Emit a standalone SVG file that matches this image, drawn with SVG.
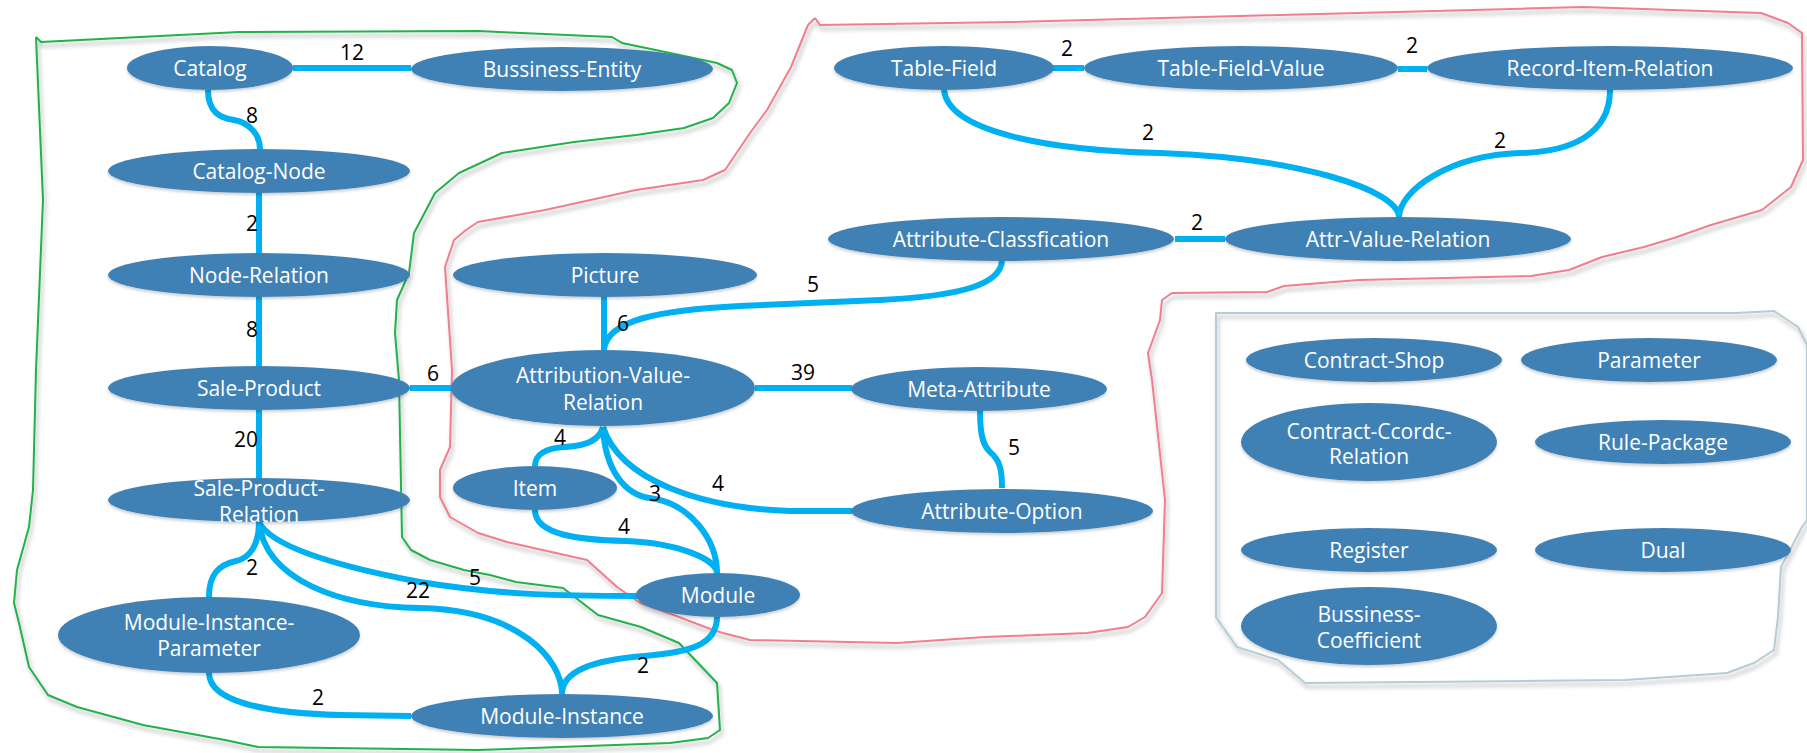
<svg xmlns="http://www.w3.org/2000/svg" width="1807" height="753" viewBox="0 0 1807 753">
<defs>
<filter id="sh" x="-5%" y="-5%" width="110%" height="110%">
<feDropShadow dx="2" dy="4" stdDeviation="2" flood-color="#000" flood-opacity="0.3"/>
</filter>
<filter id="nsh" x="-10%" y="-20%" width="120%" height="150%">
<feDropShadow dx="0" dy="2" stdDeviation="1.5" flood-color="#000" flood-opacity="0.2"/>
</filter>
</defs>
<style>
.n ellipse{fill:#4181B5;filter:url(#nsh)}
.n text{fill:#fff;font-family:"Open Sans","Liberation Sans",sans-serif;font-size:21px;text-anchor:middle}
.e path{fill:none;stroke:#00B0F0;stroke-width:6}
.lbl text{fill:#000;font-family:"Open Sans","Liberation Sans",sans-serif;font-size:21px;text-anchor:middle}
.b{fill:none;stroke-width:2;stroke-linejoin:round;filter:url(#sh)}
</style>
<rect width="1807" height="753" fill="#fff"/>
<g id="boundaries">
<path class="b" stroke="#23B14D" d="M36 37 L41 42 L239 32 L478 31 L612 37 L622 43 L670 53 L717 63 L732 70 L737 83 L729 103 L713 118 L684 128 L636 135 L574 142 L502 153 L459 173 L435 193 L414 233 L409 273 L397 300 L395 333 L399 380 L402 537 L411 550 L430 560 L464 570 L490 575 L516 582 L563 588 L598 615 L641 627 L679 643 L717 683 L720 730 L708 738 L670 743 L478 750 L258 747 L225 740 L143 725 L77 707 L48 695 L29 667 L19 623 L14 603 L17 570 L29 527 L33 490 L36 370 L43 200 L36 37"/>
<path class="b" stroke="#EF7F8F" d="M815 18 L820 25 L1012 22 L1584 7 L1761 13 L1788 23 L1802 33 L1803 160 L1791 187 L1762 210 L1711 225 L1674 238 L1644 247 L1602 257 L1569 270 L1531 276 L1359 280 L1284 286 L1267 292 L1172 293 L1162 300 L1160 320 L1148 353 L1152 380 L1165 500 L1162 593 L1145 617 L1128 627 L1087 633 L985 637 L897 643 L750 640 L723 633 L713 630 L679 617 L640 603 L617 587 L587 560 L507 542 L478 533 L450 517 L440 497 L440 470 L450 447 L452 370 L445 267 L454 240 L466 230 L478 222 L545 210 L636 190 L703 180 L725 170 L750 133 L767 110 L791 67 L808 25 L815 18"/>
<path class="b" stroke="#B4CCD4" d="M1216 313 L1736 313 L1774 311 L1798 327 L1807 345 L1807 520 L1802 527 L1781 567 L1778 617 L1774 650 L1754 663 L1727 673 L1625 680 L1305 683 L1278 660 L1237 647 L1227 633 L1216 617 Z"/>
</g>
<g id="connectors" class="e">
<path d="M293 68 L411 68"/>
<path d="M208 90 C208 112 220 118 234 120 C250 123 260 135 260 149"/>
<path d="M259 193 L259 253"/>
<path d="M259 297 L259 366"/>
<path d="M259 410 L259 478"/>
<path d="M410 388 L452 388"/>
<path d="M604 297 L604 350"/>
<path d="M1002 261 C1000 285 960 296 880 300 L740 306 C660 310 606 320 604 350"/>
<path d="M755 388 L852 388"/>
<path d="M603 427 C600 440 585 446 565 447 C545 448 535 455 535 466"/>
<path d="M603 427 C605 470 625 495 650 498 C690 503 717 540 717 573"/>
<path d="M603 427 C620 480 700 508 790 511 L852 511"/>
<path d="M535 510 C535 535 580 540 625 541 C680 543 717 560 717 573"/>
<path d="M980 411 C980 440 985 447 990 452 C1000 460 1002 470 1002 488"/>
<path d="M259 522 C270 545 330 565 420 582 C500 595 560 596 637 596"/>
<path d="M259 522 C265 580 340 607 420 608 C520 610 562 660 562 694"/>
<path d="M259 522 C259 545 250 558 236 561 C218 565 209 575 209 597"/>
<path d="M209 673 C209 700 260 713 340 715 L411 716"/>
<path d="M717 617 C717 645 690 652 645 656 C590 660 562 672 562 694"/>
<path d="M1053 68 L1084 68"/>
<path d="M1398 69 L1427 69"/>
<path d="M944 90 C948 130 1040 150 1160 153 C1300 158 1398 190 1399 217"/>
<path d="M1610 90 C1610 135 1570 152 1520 153 C1450 155 1400 190 1399 217"/>
<path d="M1175 239 L1225 239"/>
</g>
<g id="labels" class="lbl">
<text x="352" y="60">12</text>
<text x="252" y="123">8</text>
<text x="252" y="231">2</text>
<text x="252" y="337">8</text>
<text x="246" y="447">20</text>
<text x="433" y="381">6</text>
<text x="623" y="331">6</text>
<text x="813" y="292">5</text>
<text x="803" y="380">39</text>
<text x="560" y="445">4</text>
<text x="655" y="501">3</text>
<text x="718" y="491">4</text>
<text x="624" y="534">4</text>
<text x="1014" y="455">5</text>
<text x="475" y="585">5</text>
<text x="418" y="598">22</text>
<text x="252" y="575">2</text>
<text x="318" y="705">2</text>
<text x="643" y="673">2</text>
<text x="1067" y="56">2</text>
<text x="1412" y="53">2</text>
<text x="1148" y="140">2</text>
<text x="1500" y="148">2</text>
<text x="1197" y="230">2</text>
</g>
<g id="n-catalog" class="n"><ellipse cx="210" cy="68" rx="83" ry="22"/><text x="210" y="76">Catalog</text></g>
<g id="n-bussiness-entity" class="n"><ellipse cx="562" cy="69" rx="151" ry="22"/><text x="562" y="77">Bussiness-Entity</text></g>
<g id="n-catalog-node" class="n"><ellipse cx="259" cy="171" rx="151" ry="22"/><text x="259" y="179">Catalog-Node</text></g>
<g id="n-node-relation" class="n"><ellipse cx="259" cy="275" rx="151" ry="22"/><text x="259" y="283">Node-Relation</text></g>
<g id="n-sale-product" class="n"><ellipse cx="259" cy="388" rx="151" ry="22"/><text x="259" y="396">Sale-Product</text></g>
<g id="n-sale-product-relation" class="n"><ellipse cx="259" cy="500" rx="151" ry="22"/><text x="259" y="496">Sale-Product-</text><text x="259" y="522">Relation</text></g>
<g id="n-module-instance-parameter" class="n"><ellipse cx="209" cy="635" rx="151" ry="38"/><text x="209" y="630">Module-Instance-</text><text x="209" y="656">Parameter</text></g>
<g id="n-module-instance" class="n"><ellipse cx="562" cy="716" rx="151" ry="22"/><text x="562" y="724">Module-Instance</text></g>
<g id="n-picture" class="n"><ellipse cx="605" cy="275" rx="152" ry="22"/><text x="605" y="283">Picture</text></g>
<g id="n-attribution-value-relation" class="n"><ellipse cx="603" cy="388" rx="152" ry="38"/><text x="603" y="383">Attribution-Value-</text><text x="603" y="410">Relation</text></g>
<g id="n-item" class="n"><ellipse cx="535" cy="488" rx="82" ry="22"/><text x="535" y="496">Item</text></g>
<g id="n-module" class="n"><ellipse cx="718" cy="595" rx="82" ry="22"/><text x="718" y="603">Module</text></g>
<g id="n-meta-attribute" class="n"><ellipse cx="979" cy="389" rx="128" ry="22"/><text x="979" y="397">Meta-Attribute</text></g>
<g id="n-attribute-option" class="n"><ellipse cx="1002" cy="511" rx="151" ry="22"/><text x="1002" y="519">Attribute-Option</text></g>
<g id="n-attribute-classfication" class="n"><ellipse cx="1001" cy="239" rx="173" ry="22"/><text x="1001" y="247">Attribute-Classfication</text></g>
<g id="n-attr-value-relation" class="n"><ellipse cx="1398" cy="239" rx="173" ry="22"/><text x="1398" y="247">Attr-Value-Relation</text></g>
<g id="n-table-field" class="n"><ellipse cx="944" cy="68" rx="110" ry="22"/><text x="944" y="76">Table-Field</text></g>
<g id="n-table-field-value" class="n"><ellipse cx="1241" cy="68" rx="157" ry="22"/><text x="1241" y="76">Table-Field-Value</text></g>
<g id="n-record-item-relation" class="n"><ellipse cx="1610" cy="68" rx="183" ry="22"/><text x="1610" y="76">Record-Item-Relation</text></g>
<g id="n-contract-shop" class="n"><ellipse cx="1374" cy="360" rx="128" ry="22"/><text x="1374" y="368">Contract-Shop</text></g>
<g id="n-parameter" class="n"><ellipse cx="1649" cy="360" rx="128" ry="22"/><text x="1649" y="368">Parameter</text></g>
<g id="n-contract-ccordc-relation" class="n"><ellipse cx="1369" cy="442" rx="128" ry="39"/><text x="1369" y="439">Contract-Ccordc-</text><text x="1369" y="464">Relation</text></g>
<g id="n-rule-package" class="n"><ellipse cx="1663" cy="442" rx="128" ry="22"/><text x="1663" y="450">Rule-Package</text></g>
<g id="n-register" class="n"><ellipse cx="1369" cy="550" rx="128" ry="22"/><text x="1369" y="558">Register</text></g>
<g id="n-dual" class="n"><ellipse cx="1663" cy="550" rx="128" ry="22"/><text x="1663" y="558">Dual</text></g>
<g id="n-bussiness-coefficient" class="n"><ellipse cx="1369" cy="626" rx="128" ry="39"/><text x="1369" y="622">Bussiness-</text><text x="1369" y="648">Coefficient</text></g>
</svg>
